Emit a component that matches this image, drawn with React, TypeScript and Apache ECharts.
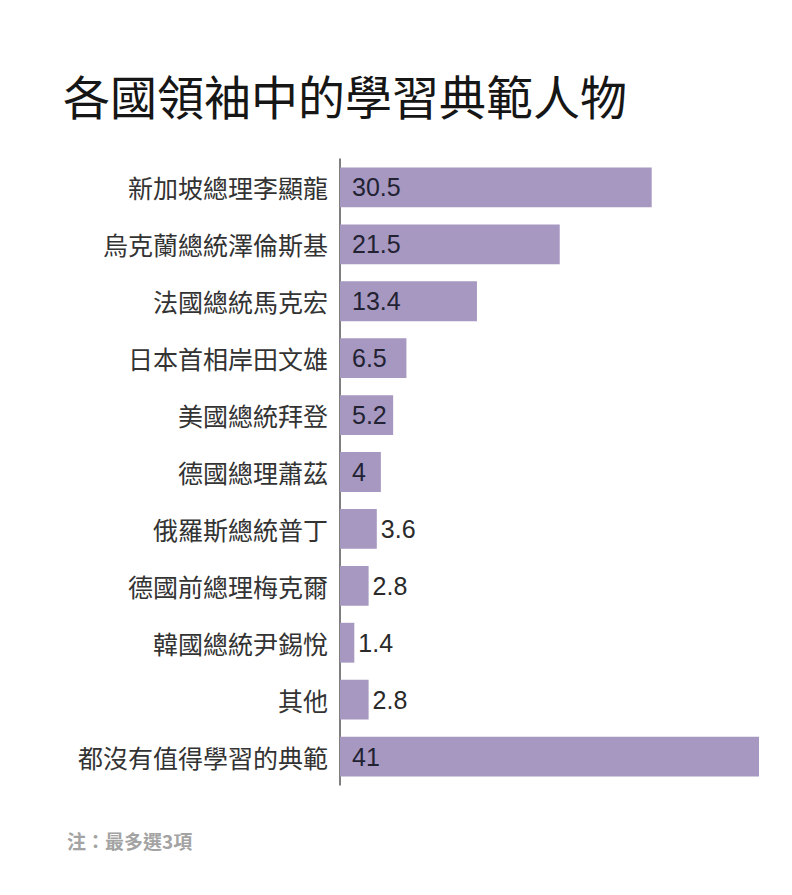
import React, { useEffect, useRef } from "react";
import * as echarts from "echarts";

const titleText = "各國領袖中的學習典範人物";
const noteText = "注：最多選3項";
const categories = [
  "新加坡總理李顯龍",
  "烏克蘭總統澤倫斯基",
  "法國總統馬克宏",
  "日本首相岸田文雄",
  "美國總統拜登",
  "德國總理蕭茲",
  "俄羅斯總統普丁",
  "德國前總理梅克爾",
  "韓國總統尹錫悅",
  "其他",
  "都沒有值得學習的典範",
];
const values = [30.5, 21.5, 13.4, 6.5, 5.2, 4, 3.6, 2.8, 1.4, 2.8, 41];

const CJK = '"Noto Sans CJK TC", "Noto Sans CJK SC", sans-serif';
const NUM = '"Liberation Sans", Arial, "Noto Sans CJK TC", sans-serif';

export default function App() {
  const ref = useRef<HTMLDivElement>(null);
  useEffect(() => {
    if (!ref.current) return;
    const chart = echarts.init(ref.current, null, { renderer: "svg" });
    chart.setOption({
      animation: false,
      backgroundColor: "#ffffff",
      title: [
        {
          text: titleText,
          left: 50,
          top: 58,
          textStyle: { fontFamily: CJK, fontSize: 47, fontWeight: "normal", color: "#161616" },
        },
        {
          text: noteText,
          left: 54,
          top: 818,
          textStyle: { fontFamily: CJK, fontSize: 19, fontWeight: 700, color: "#a3a3a3" },
        },
      ],
      grid: { left: 332, right: 25, top: 151, height: 626, containLabel: false },
      xAxis: {
        type: "value",
        min: 0,
        max: 41,
        show: false,
        splitLine: { show: false },
      },
      yAxis: {
        type: "category",
        data: categories,
        inverse: true,
        axisLine: { show: true, lineStyle: { color: "#555555", width: 1.5 } },
        axisTick: { show: false },
        axisLabel: {
          margin: 12,
          fontFamily: CJK,
          fontSize: 25,
          color: "#333333",
        },
      },
      series: [
        {
          type: "bar",
          barCategoryGap: "30%",
          itemStyle: { color: "#a698c0" },
          data: values.map((v) => ({
            value: v,
            label:
              v >= 4
                ? { show: true, position: "insideLeft", distance: 12, color: "#222233" }
                : { show: true, position: "right", distance: 4, color: "#2a2a2a" },
          })),
          label: {
            show: true,
            fontFamily: NUM,
            fontSize: 25,
          },
        },
      ],
    });
    return () => chart.dispose();
  }, []);
  return <div ref={ref} style={{ width: 776, height: 879 }} />;
}
